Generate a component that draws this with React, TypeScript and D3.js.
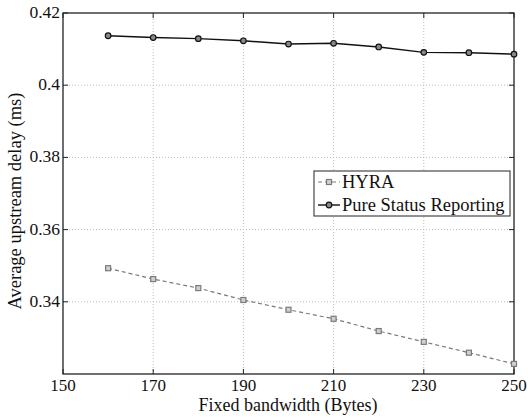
import React, { useEffect, useRef } from 'react';
import * as d3 from 'd3';

const bandwidth = [160, 170, 180, 190, 200, 210, 220, 230, 240, 250];
const hyra = [0.3493, 0.3463, 0.3438, 0.3405, 0.3378, 0.3353, 0.3319, 0.3289, 0.3259, 0.3228];
const pureStatus = [0.4137, 0.4132, 0.4129, 0.4123, 0.4114, 0.4116, 0.4106, 0.4091, 0.409, 0.4086];
const xTicks = [150, 170, 190, 210, 230, 250];
const yTicks = [0.34, 0.36, 0.38, 0.4, 0.42];
const seriesNames = ['HYRA', 'Pure Status Reporting'];

export default function App() {
  const ref = useRef<SVGSVGElement>(null);

  useEffect(() => {
    const svg = d3.select(ref.current);
    svg.selectAll('*').remove();

    const left = 63, top = 13, right = 514, bottom = 374;
    const font = "'Liberation Serif', 'Times New Roman', Times, serif";

    const x = d3.scaleLinear().domain([150, 250]).range([left, right]);
    const y = d3.scaleLinear().domain([0.32, 0.42]).range([bottom, top]);

    svg.append('rect').attr('width', 528).attr('height', 419).attr('fill', '#fff');

    // grid
    const grid = svg.append('g').attr('stroke', '#bdbdbd').attr('stroke-width', 1).attr('stroke-dasharray', '1,2');
    xTicks.slice(1, -1).forEach((t) => {
      grid.append('line').attr('x1', x(t)).attr('x2', x(t)).attr('y1', top).attr('y2', bottom);
    });
    yTicks.slice(0, -1).forEach((t) => {
      grid.append('line').attr('x1', left).attr('x2', right).attr('y1', y(t)).attr('y2', y(t));
    });

    // ticks inside on all sides
    const ticks = svg.append('g').attr('stroke', '#222').attr('stroke-width', 1);
    xTicks.forEach((t) => {
      ticks.append('line').attr('x1', x(t)).attr('x2', x(t)).attr('y1', bottom).attr('y2', bottom - 5);
      ticks.append('line').attr('x1', x(t)).attr('x2', x(t)).attr('y1', top).attr('y2', top + 5);
    });
    yTicks.forEach((t) => {
      ticks.append('line').attr('x1', left).attr('x2', left + 5).attr('y1', y(t)).attr('y2', y(t));
      ticks.append('line').attr('x1', right).attr('x2', right - 5).attr('y1', y(t)).attr('y2', y(t));
    });

    svg.append('rect')
      .attr('x', left).attr('y', top)
      .attr('width', right - left).attr('height', bottom - top)
      .attr('fill', 'none').attr('stroke', '#222').attr('stroke-width', 1.3);

    // tick labels
    svg.append('g').selectAll('text').data(xTicks).join('text')
      .attr('x', (d) => x(d)).attr('y', bottom + 17)
      .attr('text-anchor', 'middle')
      .style('font-family', font).style('font-size', '17px').attr('fill', '#111')
      .text((d) => d);
    svg.append('g').selectAll('text').data(yTicks).join('text')
      .attr('x', left - 3).attr('y', (d) => y(d) + 5)
      .attr('text-anchor', 'end')
      .style('font-family', font).style('font-size', '17.5px').attr('fill', '#111')
      .text((d) => d3.format('~g')(d));

    // axis titles
    svg.append('text')
      .attr('x', 288).attr('y', 411)
      .attr('text-anchor', 'middle')
      .style('font-family', font).style('font-size', '18px').attr('fill', '#111')
      .text('Fixed bandwidth (Bytes)');
    svg.append('text')
      .attr('transform', `translate(21,201) rotate(-90)`)
      .attr('text-anchor', 'middle')
      .style('font-family', font).style('font-size', '18.5px').attr('fill', '#111')
      .text('Average upstream delay (ms)');

    const line = d3.line<number>()
      .x((_, i) => x(bandwidth[i]))
      .y((d) => y(d));

    // HYRA
    svg.append('path').datum(hyra)
      .attr('fill', 'none').attr('stroke', '#7a7a7a').attr('stroke-width', 1.2)
      .attr('stroke-dasharray', '4,3').attr('d', line);
    svg.append('g').selectAll('rect').data(hyra).join('rect')
      .attr('x', (_, i) => x(bandwidth[i]) - 2.5).attr('y', (d) => y(d) - 2.5)
      .attr('width', 5).attr('height', 5)
      .attr('fill', '#d0d0d0').attr('stroke', '#7a7a7a').attr('stroke-width', 1.2);

    // Pure Status Reporting
    svg.append('path').datum(pureStatus)
      .attr('fill', 'none').attr('stroke', '#111').attr('stroke-width', 1.4).attr('d', line);
    svg.append('g').selectAll('circle').data(pureStatus).join('circle')
      .attr('cx', (_, i) => x(bandwidth[i])).attr('cy', (d) => y(d))
      .attr('r', 2.8)
      .attr('fill', '#888').attr('stroke', '#111').attr('stroke-width', 1.2);

    // legend
    const lg = svg.append('g');
    lg.append('rect').attr('x', 314).attr('y', 171).attr('width', 196).attr('height', 45)
      .attr('fill', '#fff').attr('stroke', '#222').attr('stroke-width', 1);
    const rows = [182, 205];
    lg.append('line').attr('x1', 318).attr('x2', 340).attr('y1', rows[0]).attr('y2', rows[0])
      .attr('stroke', '#7a7a7a').attr('stroke-width', 1.2).attr('stroke-dasharray', '4,3');
    lg.append('rect').attr('x', 326.5).attr('y', rows[0] - 2.5).attr('width', 5).attr('height', 5)
      .attr('fill', '#d0d0d0').attr('stroke', '#7a7a7a').attr('stroke-width', 1.2);
    lg.append('line').attr('x1', 318).attr('x2', 340).attr('y1', rows[1]).attr('y2', rows[1])
      .attr('stroke', '#111').attr('stroke-width', 1.4);
    lg.append('circle').attr('cx', 329).attr('cy', rows[1]).attr('r', 2.8)
      .attr('fill', '#888').attr('stroke', '#111').attr('stroke-width', 1.2);
    lg.selectAll('text.lbl').data(seriesNames).join('text')
      .attr('class', 'lbl')
      .attr('x', 342).attr('y', (_, i) => rows[i] + 6)
      .style('font-family', font).style('font-size', '18.5px').attr('fill', '#111')
      .text((d) => d);
  }, []);

  return (
    <svg ref={ref} width={528} height={419}
      style={{ position: 'absolute', left: 0, top: 0, display: 'block' }} />
  );
}
